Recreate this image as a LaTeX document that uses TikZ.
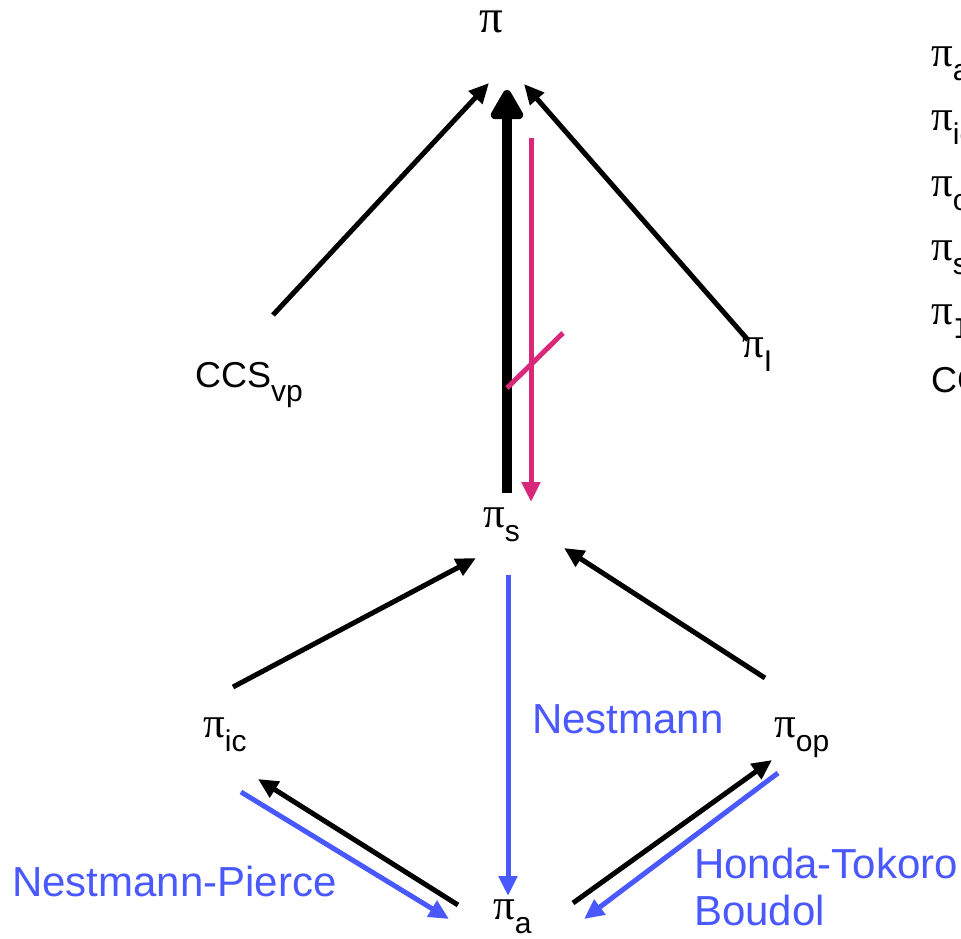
\documentclass[tikz,border=0pt]{standalone}
\usepackage{fontspec}
\setmainfont{Liberation Sans}
\newfontfamily\pifont{Liberation Serif}
\newfontfamily\monof{Liberation Mono}
\usetikzlibrary{arrows.meta}
\definecolor{nblue}{RGB}{74,88,255}
\definecolor{npink}{RGB}{217,40,122}
\newcommand\pisym{{\pifont\fontsize{43}{43}\selectfont π}}
\newcommand\subt[1]{{\fontsize{30}{30}\selectfont\raisebox{-14pt}{#1}}}
\newcommand\pil[1]{\pisym\subt{#1}}
\tikzset{
  lab/.style={inner sep=0pt, anchor=base west},
  blk/.style={line width=5pt, black, -{Triangle[length=20pt,width=18pt]}},
  blu/.style={line width=5pt, nblue, -{Triangle[length=20pt,width=18pt]}},
  pnk/.style={line width=5pt, npink, -{Triangle[length=20pt,width=18pt]}},
  thick arrow/.style={line width=10pt, black, -{Triangle[length=34pt,width=36pt,round]}},
  bluetext/.style={inner sep=0pt, anchor=base west, text=nblue, font=\fontsize{42}{47}\selectfont},
}
\begin{document}
\begin{tikzpicture}[x=1pt,y=-1pt]
\useasboundingbox (0,0) rectangle (961,939);
\clip (0,0) rectangle (961,939);
% labels
\node[lab] (pi) at (479,33) {\pifont\fontsize{47}{47}\selectfont π};
\node[lab] (ccs) at (195,387) {\fontsize{36}{36}\selectfont CCS\subt{vp}};
\node[lab] (piI) at (742,357) {\pil{I}};
\node[lab] (pis) at (483,527) {\pil{s}};
\node[lab] (piic) at (203,737) {\pil{ic}};
\node[lab] (piop) at (774,737) {\pil{op}};
\node[lab] (pia) at (493,919) {\pil{a}};
% right column (cut off at the border)
\node[lab] (r1) at (931,67) {\pil{a}};
\node[lab] (r2) at (931,131) {\pil{ic}};
\node[lab] (r3) at (931,196) {\pil{op}};
\node[lab] (r4) at (931,260) {\pil{s}};
\node[lab] (r5) at (931,324) {\pisym\subt{\monof I}};
\node[lab] (r6) at (931,392) {\fontsize{36}{36}\selectfont CCS\subt{vp}};
% blue texts
\node[bluetext] (tN) at (532,733) {Nestmann};
\node[bluetext] (tNP) at (12,896) {Nestmann-Pierce};
\node[bluetext] (tHT) at (694,878) {Honda-Tokoro};
\node[bluetext] (tB) at (694,925) {Boudol};
% arrow end points
\coordinate (a1s) at (273,315); \coordinate (a1e) at (489,83);
\coordinate (a2s) at (748,340); \coordinate (a2e) at (524,84);
\coordinate (a3s) at (507,493); \coordinate (a3e) at (507,90);
\coordinate (p1s) at (531,138); \coordinate (p1e) at (531,502);
\coordinate (p2s) at (507,388); \coordinate (p2e) at (563,333);
\coordinate (a5s) at (233,687); \coordinate (a5e) at (476,558);
\coordinate (a6s) at (765,678); \coordinate (a6e) at (564,548);
\coordinate (b1s) at (508,575); \coordinate (b1e) at (508,896);
\coordinate (a8s) at (458,905); \coordinate (a8e) at (258,779);
\coordinate (b2s) at (241,792); \coordinate (b2e) at (449,919);
\coordinate (a9s) at (573,903); \coordinate (a9e) at (772,760);
\coordinate (b3s) at (778,773); \coordinate (b3e) at (584,919);
% connectors
\draw[blk] (a1s) -- (a1e);
\draw[blk] (a2s) -- (a2e);
\draw[thick arrow] (a3s) -- (a3e);
\draw[pnk] (p1s) -- (p1e);
\draw[line width=5pt, npink] (p2s) -- (p2e);
\draw[blk] (a5s) -- (a5e);
\draw[blk] (a6s) -- (a6e);
\draw[blu] (b1s) -- (b1e);
\draw[blk] (a8s) -- (a8e);
\draw[blu] (b2s) -- (b2e);
\draw[blk] (a9s) -- (a9e);
\draw[blu] (b3s) -- (b3e);
\end{tikzpicture}
\end{document}
